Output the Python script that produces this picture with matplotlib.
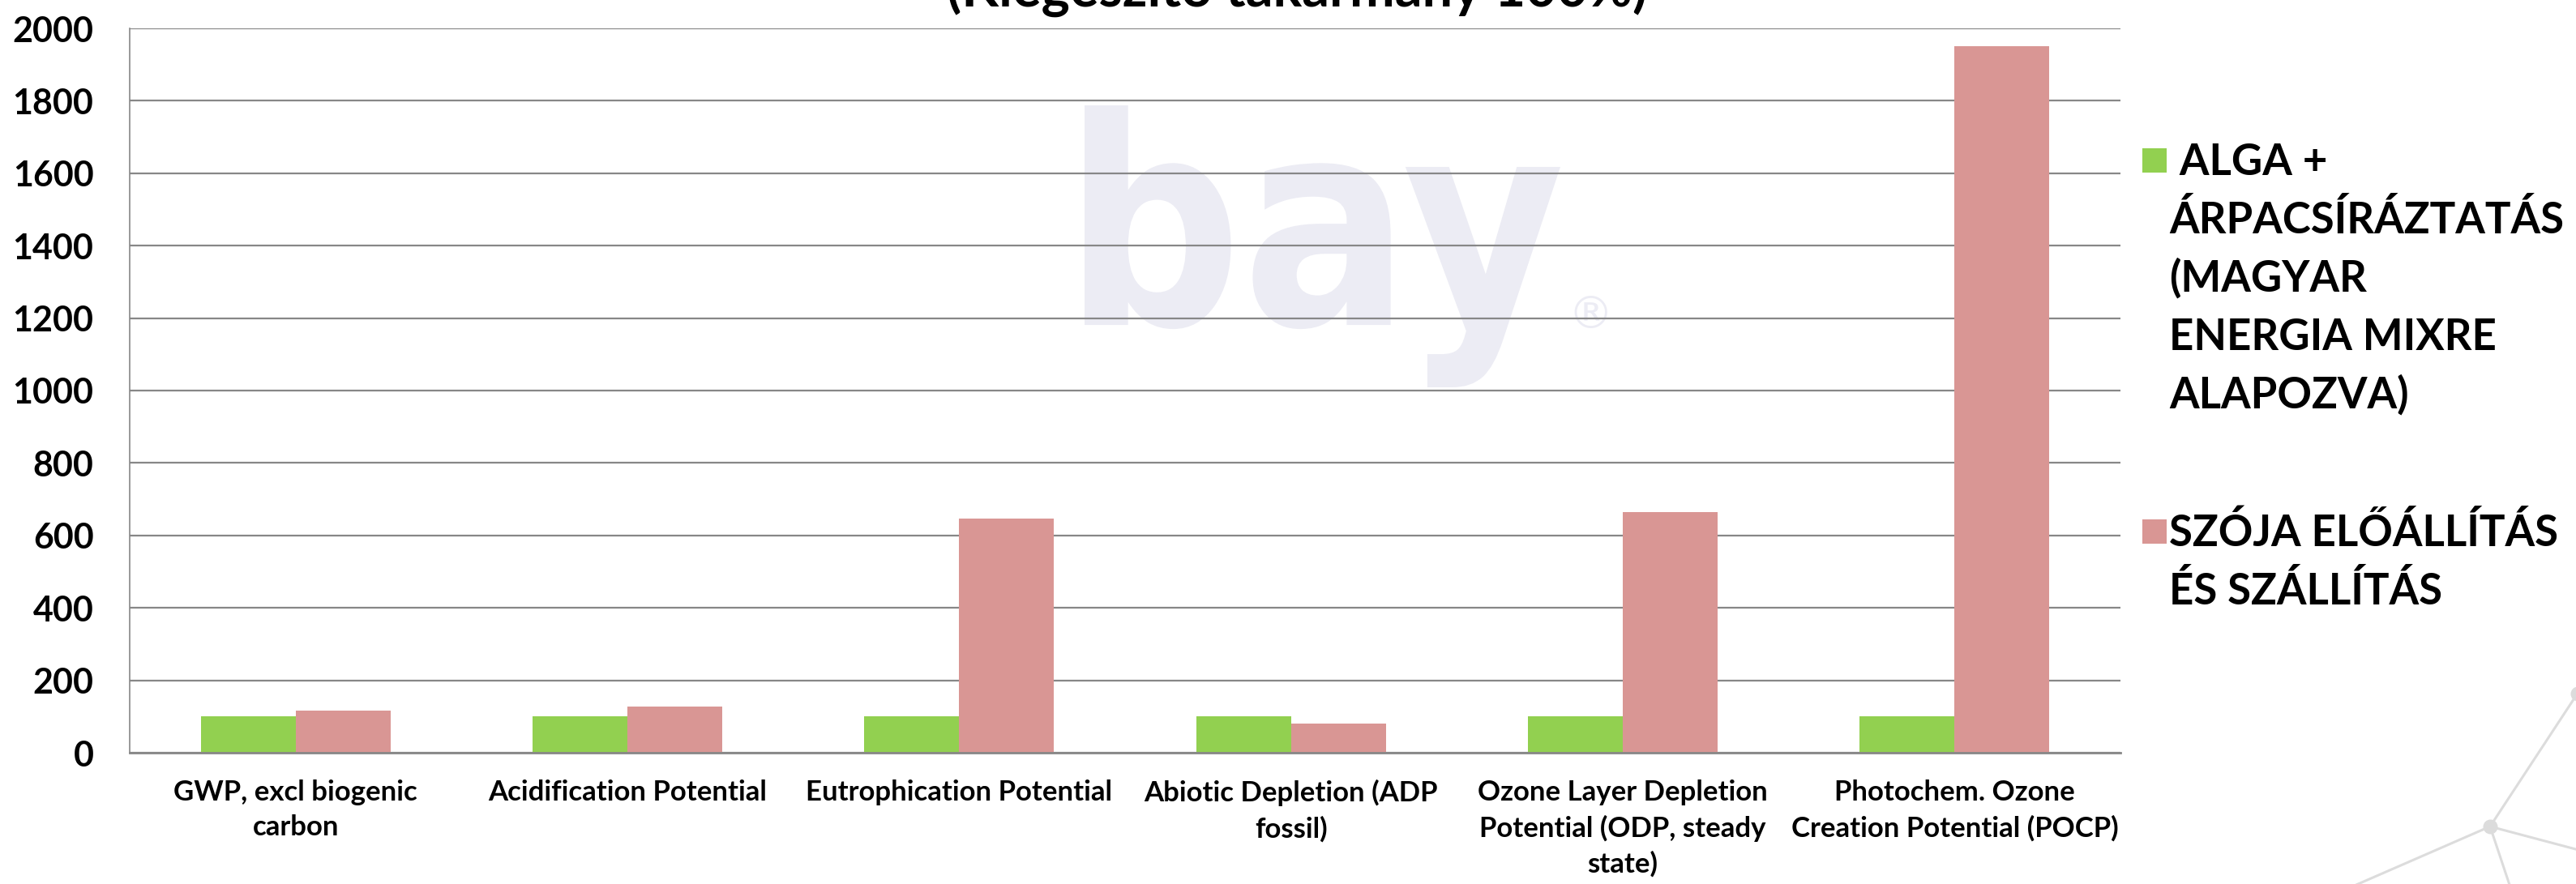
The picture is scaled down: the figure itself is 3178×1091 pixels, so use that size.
import matplotlib
matplotlib.use("Agg")
import matplotlib.pyplot as plt
import numpy as np
from matplotlib.textpath import TextPath
from matplotlib.patches import PathPatch, Rectangle
from matplotlib.font_manager import FontProperties
from matplotlib.transforms import Affine2D
from matplotlib.lines import Line2D

# ---- data -------------------------------------------------------------
categories = [
    "GWP, excl biogenic\ncarbon",
    "Acidification Potential",
    "Eutrophication Potential",
    "Abiotic Depletion (ADP\nfossil)",
    "Ozone Layer Depletion\nPotential (ODP, steady\nstate)",
    "Photochem. Ozone\nCreation Potential (POCP)",
]
alga_values = [100, 100, 100, 100, 100, 100]
szoja_values = [117, 128, 647, 81, 664, 1950]
series_names = [
    " ALGA +\nÁRPACSÍRÁZTATÁS\n(MAGYAR\nENERGIA MIXRE\nALAPOZVA)",
    "SZÓJA ELŐÁLLÍTÁS\nÉS SZÁLLÍTÁS",
]
series_colors = ["#92D050", "#D99694"]
y_ticks = [0, 200, 400, 600, 800, 1000, 1200, 1400, 1600, 1800, 2000]
title_text = "(Kiegészítő takarmány 100%)"

# ---- canvas helpers (pixel -> figure fraction, y measured from top) ----
W, H, DPI = 3178, 1091, 100
fig = plt.figure(figsize=(W / DPI, H / DPI), dpi=DPI)
fig.patch.set_facecolor("white")


def fx(px):
    return px / W


def fy(py):
    return 1 - py / H


FONT = "Lato"
GRID = "#878787"
WATERMARK = "#ECECF4"

# ---- background watermark logo ----------------------------------------
fp = FontProperties(family="DejaVu Sans", weight="bold")
logo = TextPath((0, 0), "bay", size=100, prop=fp)
bb = logo.get_extents()
x0, x1 = fx(1338), fx(1925)
y0, y1 = fy(478), fy(130)
aff = (Affine2D().translate(-bb.x0, -bb.y0)
       .scale((x1 - x0) / bb.width, (y1 - y0) / bb.height)
       .translate(x0, y0))
fig.add_artist(PathPatch(logo, transform=aff + fig.transFigure,
                         facecolor=WATERMARK, edgecolor="none", zorder=-5))
fig.text(fx(1962), fy(390), "®", ha="center", va="center", fontsize=40,
         color=WATERMARK, family="DejaVu Sans", zorder=-5)

# ---- decorative network lines bottom right -----------------------------
net_col = "#DCDCDC"
segments = [((3072, 1020), (3185, 848)),
            ((3072, 1020), (2900, 1095)),
            ((3072, 1020), (3185, 1050)),
            ((3072, 1020), (3097, 1095))]
for (ax_, ay_), (bx_, by_) in segments:
    fig.add_artist(Line2D([fx(ax_), fx(bx_)], [fy(ay_), fy(by_)],
                          transform=fig.transFigure, color=net_col,
                          lw=2.2, zorder=-4))
for nx, ny in [(3072, 1020), (3180, 856)]:
    fig.add_artist(Line2D([fx(nx)], [fy(ny)], transform=fig.transFigure,
                          marker="o", markersize=12, color=net_col,
                          lw=0, zorder=-4))

# ---- axes ---------------------------------------------------------------
ax = fig.add_axes([fx(160), fy(929), fx(2616) - fx(160), (929 - 35) / H])
ax.set_facecolor("none")

x = np.arange(len(categories))
bw = 0.286
ax.bar(x - bw / 2, alga_values, bw, color=series_colors[0], zorder=2)
ax.bar(x + bw / 2, szoja_values, bw, color=series_colors[1], zorder=2)

ax.set_xlim(-0.5, len(categories) - 0.5)
ax.set_ylim(0, 2000)
ax.set_yticks(y_ticks)
ax.set_yticklabels([str(v) for v in y_ticks])
ax.set_xticks(x)
ax.set_xticklabels(categories, linespacing=1.42)

ax.set_axisbelow(True)
ax.yaxis.grid(True, color=GRID, linewidth=1.6)
ax.xaxis.grid(False)
for s in ("top", "right"):
    ax.spines[s].set_visible(False)
ax.spines["left"].set_color(GRID)
ax.spines["left"].set_linewidth(1.2)
ax.spines["bottom"].set_color(GRID)
ax.spines["bottom"].set_linewidth(2.0)

ax.tick_params(axis="both", length=0)
ax.tick_params(axis="y", pad=32)
ax.tick_params(axis="x", pad=24)
for lab in ax.get_yticklabels():
    lab.set_fontfamily(FONT)
    lab.set_fontweight("bold")
    lab.set_fontsize(31)
for lab in ax.get_xticklabels():
    lab.set_fontfamily(FONT)
    lab.set_fontweight("bold")
    lab.set_fontsize(25)
    lab.set_multialignment("center")

# ---- title (sits partly above the canvas edge) -------------------------
fig.text(fx(1600), fy(9), title_text, ha="center", va="baseline",
         fontsize=48, fontweight="bold", family=FONT)

# ---- legend -------------------------------------------------------------
legend_baselines = [216, 674]
line_step = 72
for name, col, base in zip(series_names, series_colors, legend_baselines):
    fig.add_artist(Rectangle((fx(2643), fy(base - 3)), fx(30), 30 / H,
                             transform=fig.transFigure, facecolor=col,
                             edgecolor="none"))
    for k, line in enumerate(name.split("\n")):
        fig.text(fx(2676), fy(base + k * line_step), line, ha="left",
                 va="baseline", fontsize=38, fontweight="bold", family=FONT)

fig.savefig("out.png", dpi=DPI, facecolor="white")
